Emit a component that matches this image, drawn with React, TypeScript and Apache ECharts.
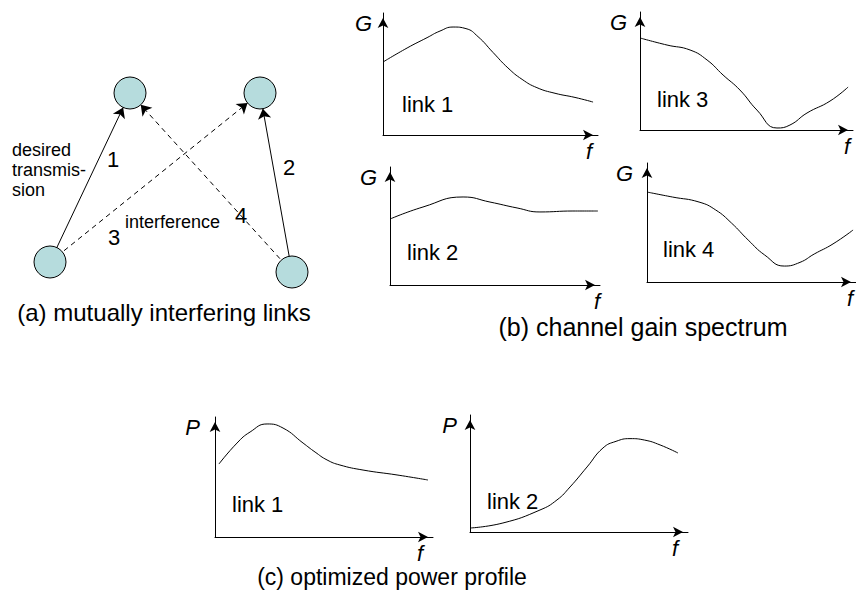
import React, { useEffect, useRef } from "react";
import * as echarts from "echarts";

// ---- (b) channel gain spectrum: [frequency, gain], both as % of the axis span
const gainLink1 = [[0, 59.8], [11.2, 71.3], [20.5, 79.8], [26.5, 85.2], [32.6, 88.5], [38.6, 87.2], [44.2, 80.6], [51.2, 67.6], [58.1, 55.0], [64.7, 45.6], [71.6, 38.8], [80.0, 34.2], [89.3, 30.8], [97.7, 27.0]];
const gainLink2 = [[0, 55.9], [15.7, 66.1], [34.8, 74.6], [47.6, 70.3], [60.5, 65.3], [71.4, 61.9], [87.1, 62.7], [99, 62.7]];
const gainLink3 = [[0, 78.0], [12.7, 72.0], [23.5, 67.8], [31.5, 59.3], [39.0, 46.6], [46.9, 33.9], [54.9, 16.9], [64.3, 1.7], [70.4, 4.2], [78.4, 14.4], [89.2, 24.5], [97.7, 36.4]];
const gainLink4 = [[0, 75.6], [12.2, 71.4], [24.9, 67.2], [32.9, 60.5], [40.4, 49.6], [48.4, 35.3], [56.3, 22.7], [65.7, 13.4], [73.2, 16.5], [80.0, 23.5], [89.0, 32.0], [98.6, 43.7]];
// ---- (c) optimized power profile: [frequency, power]
const powerLink1 = [[1.8, 60.8], [10.1, 78.3], [16.1, 87.5], [23.9, 94.2], [31.2, 90.8], [40.4, 78.3], [45.9, 70.8], [51.4, 64.2], [57.3, 60.0], [67.9, 55.8], [83.5, 51.7], [97.7, 47.5]];
const powerLink2 = [[0, 3.4], [15.1, 7.7], [32.1, 18.8], [39.9, 27.4], [45.9, 38.5], [53.7, 55.6], [61.0, 71.8], [67.0, 77.5], [73.4, 79.8], [80.0, 78.6], [87.2, 74.4], [95.4, 67.5]];

// ---- (a) mutually interfering links: network
const nodeNames = ["Rx1", "Rx2", "Tx1", "Tx2"];
const nodeX = [130, 260, 50, 292];
const nodeY = [93, 93, 262, 272];
const linkSources = ["Tx1", "Tx2", "Tx1", "Tx2"];
const linkTargets = ["Rx1", "Rx2", "Rx2", "Rx1"];
const linkKinds = ["desired", "desired", "interference", "interference"];
const linkNumbers = ["1", "2", "3", "4"];

// ---- texts
const plotLabels = ["link 1", "link 2", "link 3", "link 4", "link 1", "link 2"];
const yAxisNames = ["G", "G", "G", "G", "P", "P"];
const xAxisName = "f";
const captions = ["(a) mutually interfering links", "(b) channel gain spectrum", "(c) optimized power profile"];

const FONT = "Liberation Sans, Arial, Helvetica, sans-serif";

// layout (pixels) — not data
const panels = [
  { data: gainLink1, left: 383, top: 13, width: 215, height: 122, fGap: 6, gPad: 11, lx: 402, ly: 104 },
  { data: gainLink2, left: 390, top: 167, width: 210, height: 118, fGap: 0, gPad: 13, lx: 407, ly: 252 },
  { data: gainLink3, left: 640, top: 12, width: 213, height: 118, fGap: 3, gPad: 13, lx: 657, ly: 99 },
  { data: gainLink4, left: 647, top: 163, width: 213, height: 119, fGap: 3, gPad: 14, lx: 663, ly: 249 },
  { data: powerLink1, left: 215, top: 417, width: 218, height: 120, fGap: 10, gPad: 15, lx: 232, ly: 504 },
  { data: powerLink2, left: 470, top: 415, width: 218, height: 117, fGap: 10, gPad: 13, lx: 487, ly: 501 },
];
const numberPos = [[113, 159], [289, 167], [114, 237], [241, 215]];
const captionPos = [[164, 312], [643, 327], [392, 577]];
const captionSize = [24, 25, 23];

export default function App() {
  const ref = useRef<HTMLDivElement>(null);

  useEffect(() => {
    if (!ref.current) return;
    const chart = echarts.init(ref.current, null, { renderer: "svg" });

    const grids = panels.map((p) => ({ left: p.left, top: p.top, width: p.width, height: p.height }));

    const axisLine = {
      show: true,
      onZero: false,
      symbol: ["none", "arrow"],
      symbolSize: [8, 10],
      symbolOffset: [0, -5],
      lineStyle: { color: "#000", width: 1 },
    };

    const xAxes = panels.map((p, i) => ({
      type: "value",
      gridIndex: i,
      min: 0,
      max: 100,
      axisLine,
      axisTick: { show: false },
      axisLabel: { show: false },
      splitLine: { show: false },
      name: xAxisName,
      nameLocation: "end",
      nameGap: -p.fGap,
      nameTextStyle: {
        fontFamily: FONT,
        fontStyle: "italic",
        fontSize: 22,
        color: "#000",
        align: "right",
        verticalAlign: "top",
        padding: [5, 0, 0, 0],
      },
    }));

    const yAxes = panels.map((p, i) => ({
      type: "value",
      gridIndex: i,
      min: 0,
      max: 100,
      axisLine,
      axisTick: { show: false },
      axisLabel: { show: false },
      splitLine: { show: false },
      name: yAxisNames[i],
      nameLocation: "end",
      nameGap: 1,
      nameTextStyle: {
        fontFamily: FONT,
        fontStyle: "italic",
        fontSize: 22,
        color: "#000",
        align: "right",
        verticalAlign: "top",
        padding: [0, p.gPad, 0, 0],
      },
    }));

    const lineSeries = panels.map((p, i) => ({
      type: "line",
      name: plotLabels[i],
      xAxisIndex: i,
      yAxisIndex: i,
      data: p.data,
      smooth: 0.5,
      showSymbol: false,
      symbol: "none",
      lineStyle: { color: "#000", width: 1 },
      silent: true,
    }));

    const minX = Math.min(...nodeX);
    const maxX = Math.max(...nodeX);
    const minY = Math.min(...nodeY);
    const maxY = Math.max(...nodeY);

    const graphSeries = {
      type: "graph",
      layout: "none",
      left: minX,
      top: minY,
      width: maxX - minX,
      height: maxY - minY,
      roam: false,
      silent: true,
      symbol: "circle",
      symbolSize: 32,
      itemStyle: { color: "#b6dcdd", borderColor: "#000", borderWidth: 1 },
      label: { show: false },
      edgeSymbol: ["none", "arrow"],
      edgeSymbolSize: [0, 10],
      data: nodeNames.map((n, i) => ({ name: n, x: nodeX[i], y: nodeY[i] })),
      links: linkSources.map((s, i) => ({
        source: s,
        target: linkTargets[i],
        lineStyle: {
          color: "#000",
          width: 1,
          opacity: 1,
          curveness: 0,
          type: linkKinds[i] === "desired" ? "solid" : [5, 4],
        },
      })),
      lineStyle: { color: "#000", width: 1, opacity: 1 },
    };

    const text = (t: string, x: number, y: number, size: number, align = "left", vAlign = "middle", extra: any = {}) => ({
      type: "text",
      x,
      y,
      silent: true,
      style: { text: t, fontSize: size, fontFamily: FONT, fill: "#000", align, verticalAlign: vAlign, ...extra },
    });

    const graphics: any[] = [];
    panels.forEach((p, i) => graphics.push(text(plotLabels[i], p.lx, p.ly, 22)));
    linkNumbers.forEach((n, i) => graphics.push(text(n, numberPos[i][0], numberPos[i][1], 22, "center")));
    graphics.push(text("desired\ntransmis-\nsion", 12, 140, 18, "left", "top", { lineHeight: 20 }));
    graphics.push(text("interference", 125, 222, 18));
    captions.forEach((c, i) => graphics.push(text(c, captionPos[i][0], captionPos[i][1], captionSize[i], "center")));

    chart.setOption({
      animation: false,
      backgroundColor: "#fff",
      textStyle: { fontFamily: FONT },
      grid: grids,
      xAxis: xAxes,
      yAxis: yAxes,
      series: [...lineSeries, graphSeries],
      graphic: graphics,
    });

    return () => chart.dispose();
  }, []);

  return (
    <div
      ref={ref}
      style={{ position: "absolute", left: 0, top: 0, width: 856, height: 592, background: "#fff" }}
    />
  );
}
